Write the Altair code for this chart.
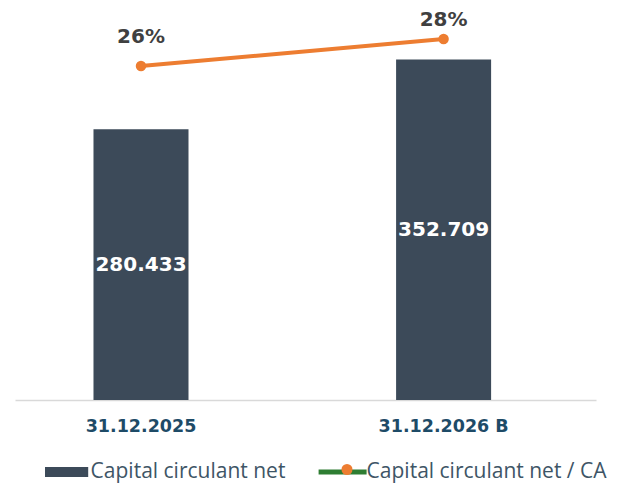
import altair as alt
import pandas as pd

# ---- data ----
categories = ["31.12.2025", "31.12.2026 B"]
bcf_values = [280.433, 352.709]
bar_labels = ["280.433", "352.709"]
ratio_pct = [26, 28]
pct_labels = ["26%", "28%"]
series_names = ["Capital circulant net", "Capital circulant net / CA"]

df = pd.DataFrame({
    "cat": categories,
    "value": bcf_values,
    "vlabel": bar_labels,
    "pct": ratio_pct,
    "plabel": pct_labels,
    "line_series": [series_names[1]] * len(categories),
})

BAR = "#3c4a59"
ORANGE = "#ED7D31"
GREEN = "#2e7d32"
LEG_TXT = "#3e5566"
AX_TXT = "#1e4b67"

PATH_RECT = "M-0.9,-0.21H0.9V0.21H-0.9Z"
PATH_LINE = "M-1,-0.1H1V0.1H-1Z"

x = alt.X(
    "cat:N", sort=categories,
    scale=alt.Scale(paddingInner=0.686, paddingOuter=0.303, align=0.428),
    axis=alt.Axis(title=None, labelAngle=0, ticks=False, domainColor="#d9d9d9",
                  domainWidth=1.5, labelFont="DejaVu Sans", labelFontWeight="bold",
                  labelFontSize=17.5, labelColor=AX_TXT, labelPadding=17),
)
ybar = alt.Scale(domain=[0, 404], nice=False, zero=True)
yline = alt.Scale(domain=[1.26, 30.15], nice=False, zero=False)

base = alt.Chart(df)

bars = base.mark_bar(color=BAR).encode(
    x=x, y=alt.Y("value:Q", scale=ybar, axis=None)
)
bar_text = base.transform_calculate(mid="datum.value / 2").mark_text(
    font="DejaVu Sans", fontWeight="bold", fontSize=20, color="white", baseline="middle"
).encode(x=x, y=alt.Y("mid:Q", scale=ybar, axis=None), text="vlabel:N")

line = base.mark_line(color=ORANGE, strokeWidth=4).encode(
    x=x, y=alt.Y("pct:Q", scale=yline, axis=None)
)

leg2 = alt.Legend(title=None, orient="none", legendX=321.5, legendY=449,
                  direction="horizontal", symbolType="circle", symbolSize=121,
                  symbolStrokeWidth=0, labelExpr="''", labelFont="Open Sans",
                  labelFontSize=21, labelLimit=400, padding=0)
points = base.mark_point(filled=True, size=110, opacity=1, strokeWidth=0).encode(
    x=x, y=alt.Y("pct:Q", scale=yline, axis=None),
    fill=alt.Fill("line_series:N", scale=alt.Scale(domain=[series_names[1]], range=[ORANGE]),
                  legend=leg2),
)


def pct_label_layer(flt, dy):
    return base.transform_filter(flt).mark_text(
        font="DejaVu Sans", fontWeight="bold", fontSize=20, color="#404040",
        baseline="middle", dy=dy
    ).encode(x=x, y=alt.Y("pct:Q", scale=yline, axis=None), text="plabel:N")


pct_text_low = pct_label_layer("datum.pct < 27", -29)
pct_text_high = pct_label_layer("datum.pct >= 27", -19.5)

leg1 = alt.Legend(title=None, orient="none", legendX=27.6, legendY=438,
                  direction="horizontal", symbolSize=2304, symbolStrokeWidth=0,
                  labelFont="Open Sans", labelFontSize=21, labelColor=LEG_TXT,
                  labelLimit=400, labelOffset=0, columnPadding=33, padding=0)
legend_layer = base.transform_filter("false").mark_point(filled=True, opacity=1).encode(
    x=x, y=alt.Y("pct:Q", scale=yline, axis=None),
    color=alt.Color("line_series:N", scale=alt.Scale(domain=series_names, range=[BAR, GREEN]),
                    legend=leg1),
    shape=alt.Shape("line_series:N", scale=alt.Scale(domain=series_names, range=[PATH_RECT, PATH_LINE]),
                    legend=leg1),
)

chart = alt.layer(bars, bar_text, line, legend_layer, points, pct_text_low, pct_text_high).resolve_scale(
    y="independent"
).properties(
    width=581, height=390,
    background="white",
    autosize=alt.AutoSizeParams(type="none"),
    padding={"left": 7, "top": 2, "right": 14, "bottom": 86},
).configure_view(stroke=None)

chart.save("out.html", embed_options={"renderer": "svg", "actions": False})
